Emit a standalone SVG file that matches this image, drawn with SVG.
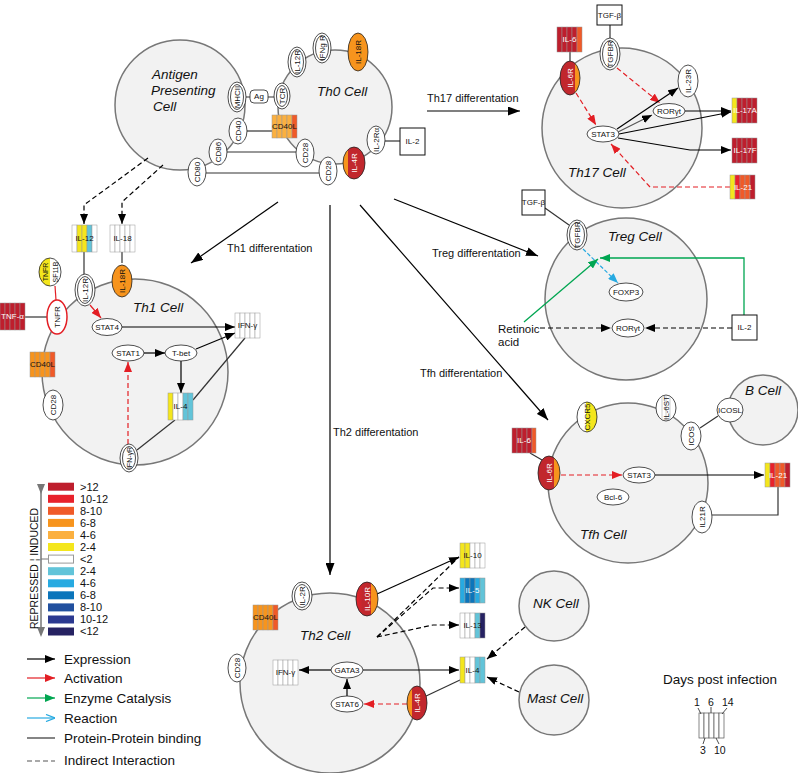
<svg xmlns="http://www.w3.org/2000/svg" width="798" height="773" viewBox="0 0 798 773">
<style>
text{font-family:"Liberation Sans",Arial,sans-serif;fill:#111}
.cell{fill:#f2f2f2;stroke:#777;stroke-width:1.5}
.cl{font-size:13.5px;font-style:italic}
.dl{font-size:11px}
.n{font-size:8px;text-anchor:middle;dominant-baseline:central;font-family:"Liberation Sans Narrow","Liberation Sans",sans-serif}
.w{fill:#fff}
.e{fill:#fff;stroke:#222;stroke-width:0.8}
.ei{fill:none;stroke:#222;stroke-width:0.8}
.s{stroke:#999;stroke-width:0.5}
.wb{fill:#fff;stroke:#111;stroke-width:1}
.k{fill:none;stroke:#000;stroke-width:1.2}
.kd{fill:none;stroke:#000;stroke-width:1.2;stroke-dasharray:5,3}
.rd{fill:none;stroke:#e31e24;stroke-width:1.2;stroke-dasharray:5,3}
.gr{fill:none;stroke:#00a651;stroke-width:1.3}
.bd{fill:none;stroke:#27aae1;stroke-width:1.2;stroke-dasharray:4,2}
.pp{fill:none;stroke:#333;stroke-width:1.2}
.lg{font-size:11px}
.lt{font-size:13.5px}
</style>
<defs>
<marker id="ak" viewBox="0 0 10 8" refX="10" refY="4" markerWidth="10" markerHeight="8" markerUnits="userSpaceOnUse" orient="auto"><path d="M0,0L10,4L0,8z" fill="#000"/></marker>
<marker id="akb" viewBox="0 0 12 9" refX="12" refY="4.5" markerWidth="12" markerHeight="9" markerUnits="userSpaceOnUse" orient="auto"><path d="M0,0L12,4.5L0,9z" fill="#000"/></marker>
<marker id="ar" viewBox="0 0 10 8" refX="10" refY="4" markerWidth="10" markerHeight="8" markerUnits="userSpaceOnUse" orient="auto"><path d="M0,0L10,4L0,8z" fill="#e31e24"/></marker>
<marker id="ag" viewBox="0 0 10 8" refX="10" refY="4" markerWidth="10" markerHeight="8" markerUnits="userSpaceOnUse" orient="auto"><path d="M0,0L10,4L0,8z" fill="#00a651"/></marker>
<marker id="ab" viewBox="0 0 10 8" refX="10" refY="4" markerWidth="10" markerHeight="8" markerUnits="userSpaceOnUse" orient="auto"><path d="M0,0L10,4L0,8z" fill="#27aae1"/></marker>
<marker id="abo" viewBox="0 0 10 8" refX="10" refY="4" markerWidth="10" markerHeight="8" markerUnits="userSpaceOnUse" orient="auto"><path d="M1,0.5L10,4L1,7.5" fill="none" stroke="#27aae1" stroke-width="1.3"/></marker>
<marker id="agr" viewBox="0 0 10 8" refX="5" refY="4" markerWidth="10" markerHeight="8" markerUnits="userSpaceOnUse" orient="auto"><path d="M0,0L10,4L0,8z" fill="#777"/></marker>
<linearGradient id="gIL6R"><stop offset="0" stop-color="#c1272d"/><stop offset="0.75" stop-color="#c1272d"/><stop offset="0.75" stop-color="#f7941d"/><stop offset="1" stop-color="#f7941d"/></linearGradient>
<linearGradient id="gIL4R"><stop offset="0" stop-color="#f7941d"/><stop offset="0.25" stop-color="#f7941d"/><stop offset="0.25" stop-color="#c1272d"/><stop offset="1" stop-color="#c1272d"/></linearGradient>
<linearGradient id="gIL10R"><stop offset="0" stop-color="#e8212b"/><stop offset="0.3" stop-color="#c1272d"/><stop offset="0.7" stop-color="#c1272d"/><stop offset="0.7" stop-color="#f7941d"/><stop offset="1" stop-color="#f7941d"/></linearGradient>
<linearGradient id="gCX"><stop offset="0" stop-color="#fff"/><stop offset="0.45" stop-color="#fff"/><stop offset="0.45" stop-color="#f4e61d"/><stop offset="1" stop-color="#f4e61d"/></linearGradient>
<linearGradient id="gTN"><stop offset="0" stop-color="#f4e61d"/><stop offset="0.5" stop-color="#f4e61d"/><stop offset="0.5" stop-color="#fff"/><stop offset="1" stop-color="#fff"/></linearGradient>
</defs>

<!-- cells -->
<g id="apc"><circle class="cell" cx="180" cy="105" r="65"/><text class="cl" x="152" y="79">Antigen</text><text class="cl" x="151" y="95">Presenting</text><text class="cl" x="153" y="111">Cell</text></g>
<g id="th0"><circle class="cell" cx="335" cy="107" r="57"/><text class="cl" x="317" y="96">Th0 Cell</text></g>
<g id="th17"><circle class="cell" cx="622" cy="128" r="80"/><text class="cl" x="568" y="177">Th17 Cell</text></g>
<g id="th1"><circle class="cell" cx="135" cy="372" r="93"/><text class="cl" x="133" y="312">Th1 Cell</text></g>
<g id="treg"><circle class="cell" cx="626" cy="299" r="81"/><text class="cl" x="608" y="241">Treg Cell</text></g>
<g id="tfh"><circle class="cell" cx="628" cy="483" r="80"/><text class="cl" x="580" y="539">Tfh Cell</text></g>
<g id="bcell"><circle class="cell" cx="763" cy="410" r="35"/><text class="cl" x="745" y="395">B Cell</text></g>
<g id="th2"><circle class="cell" cx="330" cy="683" r="90"/><text class="cl" x="300" y="640">Th2 Cell</text></g>
<g id="nk"><circle class="cell" cx="554" cy="606" r="35"/><text class="cl" x="533" y="608">NK Cell</text></g>
<g id="mast"><circle class="cell" cx="554" cy="700" r="35"/><text class="cl" x="527" y="703">Mast Cell</text></g>

<!-- connectors -->
<g id="connectors">
<path class="k" d="M427,111L520,111" marker-end="url(#akb)"/>
<path class="k" d="M278,202L191,263" marker-end="url(#akb)"/>
<path class="k" d="M330,205L330,575" marker-end="url(#akb)"/>
<path class="k" d="M394,199L538,256" marker-end="url(#akb)"/>
<path class="k" d="M360,205L548,420" marker-end="url(#akb)"/>
<path class="pp" d="M246,97L250,97M268,97L274,97"/>
<path class="pp" d="M247,131L272,131"/>
<path class="pp" d="M227,152L296,152"/>
<path class="pp" d="M206,173L319,173"/>
<path class="pp" d="M385,141L400,141"/>
<path class="kd" d="M148,158L84,205L84,224" marker-end="url(#ak)"/>
<path class="kd" d="M163,165L122,202L122,224" marker-end="url(#ak)"/>
<path class="pp" d="M570,52L570,61"/>
<path class="pp" d="M610,25L610,38"/>
<path class="rd" d="M576,93L596,125" marker-end="url(#ar)"/>
<path class="rd" d="M617,68L660,103" marker-end="url(#ar)"/>
<path class="k" d="M617,129L678,88" marker-end="url(#ak)"/>
<path class="k" d="M618,132L652,115" marker-end="url(#ak)" style="stroke:#555"/>
<path class="k" d="M619,134L731,112" marker-end="url(#ak)"/>
<path class="k" d="M685,111L731,111" marker-end="url(#ak)"/>
<path class="k" d="M618,138L690,150L731,150" marker-end="url(#ak)"/>
<path class="rd" d="M730,187L650,187L611,144" marker-end="url(#ar)"/>
<path class="pp" d="M84,252L84,274"/>
<path class="pp" d="M122,252L122,263"/>
<path class="k" d="M90,305L101,318" style="stroke:#e31e24" marker-end="url(#ar)"/>
<path class="pp" d="M25,317L47,317"/>
<path style="fill:none;stroke:#e31e24;stroke-width:1.2" d="M55,286L56,300"/>
<path class="k" d="M122,327L235,327" marker-end="url(#ak)"/>
<path class="k" d="M144,353L165,353" marker-end="url(#ak)"/>
<path class="k" d="M196,349L235,333" marker-end="url(#ak)"/>
<path class="k" d="M181,361L181,393" marker-end="url(#ak)"/>
<path class="pp" d="M175,420L137,450"/>
<path class="pp" d="M245,338L193,400"/>
<path class="rd" d="M128,444L128,362" marker-end="url(#ar)"/>
<path class="pp" d="M545,208L569,225"/>
<path class="bd" d="M583,249L618,283" marker-end="url(#ab)"/>
<path class="gr" d="M524,322L598,259" marker-end="url(#ag)"/>
<path class="gr" d="M744,315L744,258L600,258" marker-end="url(#ag)"/>
<path class="kd" d="M540,328L611,328" marker-end="url(#ak)"/>
<path class="kd" d="M732,328L645,328" marker-end="url(#ak)"/>
<path class="pp" d="M530,453L542,460"/>
<path class="rd" d="M561,475L622,475" marker-end="url(#ar)"/>
<path class="k" d="M655,475L764,475" marker-end="url(#ak)"/>
<path class="pp" d="M778,487L778,515L712,515"/>
<path class="pp" d="M700,428L718,416"/>
<path class="k" d="M377,594L459,557" marker-end="url(#ak)"/>
<path class="kd" d="M377,637L459,557"/>
<path class="kd" d="M377,637L433,588L459,588" marker-end="url(#ak)"/>
<path class="kd" d="M377,637L433,625L459,625" marker-end="url(#ak)"/>
<path class="k" d="M331,670L299,670" marker-end="url(#ak)"/>
<path class="k" d="M363,670L459,670" marker-end="url(#ak)"/>
<path class="k" d="M347,696L347,679" marker-end="url(#ak)"/>
<path class="rd" d="M407,704L364,704" marker-end="url(#ar)"/>
<path class="pp" d="M460,680L424,697"/>
<path class="kd" d="M525,627L487,659" marker-end="url(#ak)"/>
<path class="kd" d="M519,692L487,677" marker-end="url(#ak)"/>
</g>

<g id="labels">
<text class="dl" x="427" y="102">Th17 differentation</text>
<text class="dl" x="227" y="252">Th1 differentation</text>
<text class="dl" x="333" y="436">Th2 differentation</text>
<text class="dl" x="432" y="257">Treg differentation</text>
<text class="dl" x="420" y="377">Tfh differentation</text>
<text x="498" y="333" style="font-size:11.5px">Retinoic</text>
<text x="498" y="346" style="font-size:11.5px">acid</text>
</g>

<!-- Th0 / APC nodes -->
<g id="il12r_th0"><ellipse class="e" cx="297" cy="62" rx="9" ry="15"/><ellipse class="ei" cx="297" cy="62" rx="6.5" ry="12.5"/><text class="n" x="297" y="62" transform="rotate(-90 297 62)">IL-12R</text></g>
<g id="ifngr_th0"><ellipse class="e" cx="322" cy="48" rx="9" ry="15"/><ellipse class="ei" cx="322" cy="48" rx="6.5" ry="12.5"/><text class="n" x="322" y="48" transform="rotate(-90 322 48)">IFNg R</text></g>
<g id="il18r_th0"><ellipse class="e" cx="358" cy="52" rx="10" ry="19" style="fill:#f7941d"/><text class="n" x="358" y="52" transform="rotate(-90 358 52)">IL-18R</text></g>
<g id="tcr"><ellipse class="e" cx="282" cy="96" rx="8" ry="13"/><ellipse class="ei" cx="282" cy="96" rx="5.5" ry="10.5"/><text class="n" x="282" y="96" transform="rotate(-90 282 96)">TCR</text></g>
<g id="ag"><rect x="250" y="90" width="18" height="13" rx="4" class="e"/><text class="n" x="259" y="96.5">Ag</text></g>
<g id="mhcii"><ellipse class="e" cx="237" cy="97" rx="9" ry="15"/><ellipse class="ei" cx="237" cy="97" rx="6.5" ry="12.5"/><text class="n" x="237" y="97" transform="rotate(-90 237 97)">MHCII</text></g>
<g id="cd40"><ellipse class="e" cx="238" cy="131" rx="9" ry="13"/><text class="n" x="238" y="131" transform="rotate(-90 238 131)">CD40</text></g>
<g id="cd40l_th0"><rect class="s" x="272" y="115" width="5" height="23" fill="#fbb040"/><rect class="s" x="277" y="115" width="5" height="23" fill="#fbb040"/><rect class="s" x="282" y="115" width="5" height="23" fill="#fbb040"/><rect class="s" x="287" y="115" width="5" height="23" fill="#fbb040"/><rect class="s" x="292" y="115" width="5" height="23" fill="#f05a28"/><text class="n" x="284.5" y="126.5">CD40L</text></g>
<g id="cd86"><ellipse class="e" cx="218" cy="152" rx="9" ry="13"/><text class="n" x="218" y="152" transform="rotate(-90 218 152)">CD86</text></g>
<g id="cd80"><ellipse class="e" cx="197" cy="172" rx="9" ry="14"/><text class="n" x="197" y="172" transform="rotate(-90 197 172)">CD80</text></g>
<g id="cd28a_th0"><ellipse class="e" cx="305" cy="153" rx="9" ry="14"/><text class="n" x="305" y="153" transform="rotate(-90 305 153)">CD28</text></g>
<g id="cd28b_th0"><ellipse class="e" cx="328" cy="171" rx="9" ry="14"/><text class="n" x="328" y="171" transform="rotate(-90 328 171)">CD28</text></g>
<g id="il4r_th0"><ellipse class="e" cx="354" cy="163" rx="11" ry="16" style="fill:url(#gIL4R)"/><text class="n w" x="354" y="163" transform="rotate(-90 354 163)">IL-4R</text></g>
<g id="il2ra"><ellipse class="e" cx="376" cy="140" rx="9" ry="14"/><text class="n" x="376" y="140" transform="rotate(-90 376 140)">IL-2Rα</text></g>
<g id="il2_th0"><rect class="wb" x="400" y="128" width="25" height="27"/><text class="n" x="412.5" y="141.5">IL-2</text></g>

<!-- Th17 nodes -->
<g id="il6_th17"><rect class="s" x="557" y="27" width="5" height="25" fill="#be1e2d"/><rect class="s" x="562" y="27" width="5" height="25" fill="#be1e2d"/><rect class="s" x="567" y="27" width="5" height="25" fill="#be1e2d"/><rect class="s" x="572" y="27" width="5" height="25" fill="#be1e2d"/><rect class="s" x="577" y="27" width="5" height="25" fill="#f05a28"/><text class="n w" x="569.5" y="39.5">IL-6</text></g>
<g id="il6r_th17"><ellipse class="e" cx="570" cy="78" rx="10" ry="17" style="fill:url(#gIL6R)"/><text class="n w" x="570" y="78" transform="rotate(-90 570 78)">IL-6R</text></g>
<g id="tgfb_th17"><rect class="wb" x="597" y="5" width="25" height="20"/><text class="n" x="609.5" y="15">TGF-β</text></g>
<g id="tgfbr_th17"><ellipse class="e" cx="610" cy="54" rx="10" ry="16"/><ellipse class="ei" cx="610" cy="54" rx="7.5" ry="13.5"/><text class="n" x="610" y="54" transform="rotate(-90 610 54)">TGFBR</text></g>
<g id="stat3_th17"><ellipse class="e" cx="603" cy="134" rx="16" ry="8"/><text class="n" x="603" y="134">STAT3</text></g>
<g id="roryt_th17"><ellipse class="e" cx="669" cy="111" rx="16" ry="7.5"/><text class="n" x="669" y="111">RORγt</text></g>
<g id="il23r"><ellipse class="e" cx="688" cy="81" rx="10" ry="16"/><text class="n" x="688" y="81" transform="rotate(-90 688 81)">IL-23R</text></g>
<g id="il17a"><rect class="s" x="732" y="98" width="5" height="25" fill="#f4e61d"/><rect class="s" x="737" y="98" width="5" height="25" fill="#be1e2d"/><rect class="s" x="742" y="98" width="5" height="25" fill="#be1e2d"/><rect class="s" x="747" y="98" width="5" height="25" fill="#be1e2d"/><rect class="s" x="752" y="98" width="5" height="25" fill="#be1e2d"/><text class="n w" x="745" y="110.5">IL-17A</text></g>
<g id="il17f"><rect class="s" x="732" y="138" width="5" height="25" fill="#be1e2d"/><rect class="s" x="737" y="138" width="5" height="25" fill="#be1e2d"/><rect class="s" x="742" y="138" width="5" height="25" fill="#be1e2d"/><rect class="s" x="747" y="138" width="5" height="25" fill="#be1e2d"/><rect class="s" x="752" y="138" width="5" height="25" fill="#be1e2d"/><text class="n w" x="745" y="150.5">IL-17F</text></g>
<g id="il21_th17"><rect class="s" x="730" y="175" width="5" height="24" fill="#f4e61d"/><rect class="s" x="735" y="175" width="5" height="24" fill="#e8212b"/><rect class="s" x="740" y="175" width="5" height="24" fill="#f05a28"/><rect class="s" x="745" y="175" width="5" height="24" fill="#f05a28"/><rect class="s" x="750" y="175" width="5" height="24" fill="#be1e2d"/><text class="n w" x="743" y="187">IL-21</text></g>

<!-- Th1 nodes -->
<g id="il12"><rect class="s" x="72" y="225" width="5" height="27" fill="#fff"/><rect class="s" x="77" y="225" width="5" height="27" fill="#f4e61d"/><rect class="s" x="82" y="225" width="5" height="27" fill="#f4e61d"/><rect class="s" x="87" y="225" width="5" height="27" fill="#62c4d9"/><rect class="s" x="92" y="225" width="5" height="27" fill="#fff"/><text class="n" x="84.5" y="238.5">IL-12</text></g>
<g id="il18"><rect class="s" x="110" y="225" width="5" height="27" fill="#fff"/><rect class="s" x="115" y="225" width="5" height="27" fill="#fff"/><rect class="s" x="120" y="225" width="5" height="27" fill="#fff"/><rect class="s" x="125" y="225" width="5" height="27" fill="#fff"/><rect class="s" x="130" y="225" width="5" height="27" fill="#fff"/><text class="n" x="122.5" y="238.5">IL-18</text></g>
<g id="il12r_th1"><ellipse class="e" cx="85" cy="290" rx="10" ry="16"/><ellipse class="ei" cx="85" cy="290" rx="7.5" ry="13.5"/><text class="n" x="85" y="290" transform="rotate(-90 85 290)">IL-12R</text></g>
<g id="il18r_th1"><ellipse class="e" cx="122" cy="281" rx="10" ry="16" style="fill:#f7941d"/><text class="n" x="122" y="281" transform="rotate(-90 122 281)">IL-18R</text></g>
<g id="tnfr_sf11b"><ellipse class="e" cx="50" cy="272" rx="11" ry="14" style="fill:url(#gTN)"/><text class="n" x="45" y="272" style="font-size:7px" transform="rotate(-90 45 272)">TNFR</text><text class="n" x="55" y="272" style="font-size:7px" transform="rotate(-90 55 272)">SF11B</text></g>
<g id="tnfr"><ellipse cx="57" cy="317" rx="10" ry="17" fill="#fff" stroke="#e31e24" stroke-width="1.5"/><text class="n" x="57" y="317" transform="rotate(-90 57 317)">TNFR</text></g>
<g id="tnfa"><rect class="s" x="0" y="303" width="5" height="27" fill="#be1e2d"/><rect class="s" x="5" y="303" width="5" height="27" fill="#be1e2d"/><rect class="s" x="10" y="303" width="5" height="27" fill="#be1e2d"/><rect class="s" x="15" y="303" width="5" height="27" fill="#be1e2d"/><rect class="s" x="20" y="303" width="5" height="27" fill="#be1e2d"/><text class="n w" x="12.5" y="316.5">TNF-α</text></g>
<g id="cd40l_th1"><rect class="s" x="30" y="352" width="5" height="25" fill="#f7941d"/><rect class="s" x="35" y="352" width="5" height="25" fill="#f7941d"/><rect class="s" x="40" y="352" width="5" height="25" fill="#f7941d"/><rect class="s" x="45" y="352" width="5" height="25" fill="#f7941d"/><rect class="s" x="50" y="352" width="5" height="25" fill="#f05a28"/><text class="n" x="42.5" y="364.5">CD40L</text></g>
<g id="cd28_th1"><ellipse class="e" cx="53" cy="405" rx="10" ry="15"/><text class="n" x="53" y="405" transform="rotate(-90 53 405)">CD28</text></g>
<g id="stat4"><ellipse class="e" cx="107" cy="327" rx="15" ry="8.5"/><text class="n" x="107" y="327">STAT4</text></g>
<g id="ifng_th1"><rect class="s" x="235" y="313" width="5" height="25" fill="#fff"/><rect class="s" x="240" y="313" width="5" height="25" fill="#fff"/><rect class="s" x="245" y="313" width="5" height="25" fill="#fff"/><rect class="s" x="250" y="313" width="5" height="25" fill="#fff"/><rect class="s" x="255" y="313" width="5" height="25" fill="#fff"/><text class="n" x="247.5" y="325.5">IFN-γ</text></g>
<g id="stat1"><ellipse class="e" cx="128" cy="353" rx="16" ry="8"/><text class="n" x="128" y="353">STAT1</text></g>
<g id="tbet"><ellipse class="e" cx="181" cy="353" rx="16" ry="8"/><text class="n" x="181" y="353">T-bet</text></g>
<g id="il4_th1"><rect class="s" x="168" y="393" width="5" height="27" fill="#f4e61d"/><rect class="s" x="173" y="393" width="5" height="27" fill="#fff"/><rect class="s" x="178" y="393" width="5" height="27" fill="#fff"/><rect class="s" x="183" y="393" width="5" height="27" fill="#62c4d9"/><rect class="s" x="188" y="393" width="5" height="27" fill="#62c4d9"/><text class="n" x="180.5" y="406.5">IL-4</text></g>
<g id="ifngr_th1"><ellipse class="e" cx="129" cy="458" rx="9" ry="14"/><ellipse class="ei" cx="129" cy="458" rx="6.5" ry="11.5"/><text class="n" x="129" y="458" style="font-size:7px" transform="rotate(-90 129 458)">IFN-γR</text></g>

<!-- Treg nodes -->
<g id="tgfb_treg"><rect class="wb" x="522" y="190" width="23" height="25"/><text class="n" x="533.5" y="202.5">TGF-β</text></g>
<g id="tgfbr_treg"><ellipse class="e" cx="577" cy="235" rx="10" ry="15"/><ellipse class="ei" cx="577" cy="235" rx="7.5" ry="12.5"/><text class="n" x="577" y="235" transform="rotate(-90 577 235)">TGFBR</text></g>
<g id="foxp3"><ellipse class="e" cx="626" cy="292" rx="17" ry="9"/><text class="n" x="626" y="292">FOXP3</text></g>
<g id="roryt_treg"><ellipse class="e" cx="628" cy="328" rx="16" ry="9"/><text class="n" x="628" y="328">RORγt</text></g>
<g id="il2_treg"><rect class="wb" x="732" y="315" width="25" height="25"/><text class="n" x="744.5" y="327.5">IL-2</text></g>

<!-- Tfh nodes -->
<g id="il6_tfh"><rect class="s" x="512" y="428" width="5" height="25" fill="#be1e2d"/><rect class="s" x="517" y="428" width="5" height="25" fill="#be1e2d"/><rect class="s" x="522" y="428" width="5" height="25" fill="#be1e2d"/><rect class="s" x="527" y="428" width="5" height="25" fill="#be1e2d"/><rect class="s" x="532" y="428" width="4" height="25" fill="#f05a28"/><text class="n w" x="524" y="440.5">IL-6</text></g>
<g id="il6r_tfh"><ellipse class="e" cx="549" cy="473" rx="11" ry="17" style="fill:url(#gIL6R)"/><text class="n w" x="549" y="473" transform="rotate(-90 549 473)">IL-6R</text></g>
<g id="stat3_tfh"><ellipse class="e" cx="639" cy="475" rx="16" ry="8"/><text class="n" x="639" y="475">STAT3</text></g>
<g id="bcl6"><ellipse class="e" cx="613" cy="497" rx="16" ry="8"/><text class="n" x="613" y="497">Bcl-6</text></g>
<g id="il21_tfh"><rect class="s" x="765" y="463" width="5" height="24" fill="#f4e61d"/><rect class="s" x="770" y="463" width="5" height="24" fill="#e8212b"/><rect class="s" x="775" y="463" width="5" height="24" fill="#f05a28"/><rect class="s" x="780" y="463" width="5" height="24" fill="#f05a28"/><rect class="s" x="785" y="463" width="5" height="24" fill="#be1e2d"/><text class="n w" x="778" y="475">IL-21</text></g>
<g id="il21r"><ellipse class="e" cx="702" cy="517" rx="10" ry="16"/><text class="n" x="702" y="517" transform="rotate(-90 702 517)">IL21R</text></g>
<g id="cxcr5"><ellipse class="e" cx="587" cy="417" rx="10" ry="15" style="fill:url(#gCX)"/><text class="n" x="587" y="417" transform="rotate(-90 587 417)">CXCR5</text></g>
<g id="il6st"><ellipse class="e" cx="666" cy="408" rx="10" ry="13"/><path d="M662,396v24M666,395v26M670,396v24" stroke="#999" stroke-width="0.5"/><text class="n" x="666" y="408" transform="rotate(-90 666 408)">IL-6ST</text></g>
<g id="icos"><ellipse class="e" cx="691" cy="436" rx="10" ry="14"/><text class="n" x="691" y="436" transform="rotate(-90 691 436)">ICOS</text></g>
<g id="icosl"><ellipse class="e" cx="730" cy="410" rx="13" ry="12"/><text class="n" x="730" y="410">ICOSL</text></g>

<!-- Th2 nodes -->
<g id="cd40l_th2"><rect class="s" x="253" y="605" width="5" height="25" fill="#f7941d"/><rect class="s" x="258" y="605" width="5" height="25" fill="#f7941d"/><rect class="s" x="263" y="605" width="5" height="25" fill="#f7941d"/><rect class="s" x="268" y="605" width="5" height="25" fill="#f7941d"/><rect class="s" x="273" y="605" width="5" height="25" fill="#f05a28"/><text class="n" x="265.5" y="617.5">CD40L</text></g>
<g id="il2r_th2"><ellipse class="e" cx="302" cy="596" rx="10" ry="14"/><ellipse class="ei" cx="302" cy="596" rx="7.5" ry="11.5"/><text class="n" x="302" y="596" transform="rotate(-90 302 596)">IL-2R</text></g>
<g id="il10r"><ellipse class="e" cx="367" cy="599" rx="11" ry="17" style="fill:url(#gIL10R)"/><text class="n w" x="367" y="599" transform="rotate(-90 367 599)">IL-10R</text></g>
<g id="cd28_th2"><ellipse class="e" cx="237" cy="668" rx="9" ry="14"/><text class="n" x="237" y="668" transform="rotate(-90 237 668)">CD28</text></g>
<g id="ifng_th2"><rect class="s" x="273" y="660" width="5" height="25" fill="#fff"/><rect class="s" x="278" y="660" width="5" height="25" fill="#fff"/><rect class="s" x="283" y="660" width="5" height="25" fill="#fff"/><rect class="s" x="288" y="660" width="5" height="25" fill="#fff"/><rect class="s" x="293" y="660" width="5" height="25" fill="#fff"/><text class="n" x="285.5" y="672.5">IFN-γ</text></g>
<g id="gata3"><ellipse class="e" cx="347" cy="670" rx="16" ry="8"/><text class="n" x="347" y="670">GATA3</text></g>
<g id="stat6"><ellipse class="e" cx="347" cy="704" rx="16" ry="8"/><text class="n" x="347" y="704">STAT6</text></g>
<g id="il4r_th2"><ellipse class="e" cx="417" cy="703" rx="10" ry="17" style="fill:url(#gIL4R)"/><text class="n w" x="417" y="703" transform="rotate(-90 417 703)">IL-4R</text></g>
<g id="il10"><rect class="s" x="460" y="543" width="5" height="25" fill="#f4e61d"/><rect class="s" x="465" y="543" width="5" height="25" fill="#f4e61d"/><rect class="s" x="470" y="543" width="5" height="25" fill="#fff"/><rect class="s" x="475" y="543" width="5" height="25" fill="#fff"/><rect class="s" x="480" y="543" width="5" height="25" fill="#fff"/><text class="n" x="472.5" y="555.5">IL-10</text></g>
<g id="il5"><rect class="s" x="460" y="578" width="5" height="25" fill="#27aae1"/><rect class="s" x="465" y="578" width="5" height="25" fill="#0b75bb"/><rect class="s" x="470" y="578" width="5" height="25" fill="#0b75bb"/><rect class="s" x="475" y="578" width="5" height="25" fill="#27aae1"/><rect class="s" x="480" y="578" width="5" height="25" fill="#62c4d9"/><text class="n w" x="472.5" y="590.5">IL-5</text></g>
<g id="il13"><rect class="s" x="460" y="613" width="5" height="25" fill="#fff"/><rect class="s" x="465" y="613" width="5" height="25" fill="#fff"/><rect class="s" x="470" y="613" width="5" height="25" fill="#fff"/><rect class="s" x="475" y="613" width="5" height="25" fill="#62c4d9"/><rect class="s" x="480" y="613" width="5" height="25" fill="#262262"/><text class="n" x="472.5" y="625.5">IL-13</text></g>
<g id="il4_th2"><rect class="s" x="460" y="657" width="5" height="26" fill="#f4e61d"/><rect class="s" x="465" y="657" width="5" height="26" fill="#fff"/><rect class="s" x="470" y="657" width="5" height="26" fill="#fff"/><rect class="s" x="475" y="657" width="5" height="26" fill="#62c4d9"/><rect class="s" x="480" y="657" width="5" height="26" fill="#62c4d9"/><text class="n" x="472.5" y="670">IL-4</text></g>

<!-- colour legend -->
<g id="legend-colors">
<path d="M41,489L41,632" stroke="#777" stroke-width="1.5" marker-start="url(#agr)" marker-end="url(#agr)"/>
<path d="M41,559L48,559" stroke="#777" stroke-width="1"/>
<text class="lg" x="38" y="629" transform="rotate(-90 38 629)" style="font-size:10.5px">REPRESSED ¦ INDUCED</text>
<rect x="48" y="482.7" width="26" height="8" fill="#be1e2d"/><text class="lg" x="80" y="491">&gt;12</text>
<rect x="48" y="494.8" width="26" height="8" fill="#e8212b"/><text class="lg" x="80" y="503">10-12</text>
<rect x="48" y="506.8" width="26" height="8" fill="#f05a28"/><text class="lg" x="80" y="515">8-10</text>
<rect x="48" y="518.9" width="26" height="8" fill="#f7941d"/><text class="lg" x="80" y="527">6-8</text>
<rect x="48" y="531" width="26" height="8" fill="#fbb040"/><text class="lg" x="80" y="539">4-6</text>
<rect x="48" y="543" width="26" height="8" fill="#f4e61d"/><text class="lg" x="80" y="551">2-4</text>
<rect x="48.5" y="555.1" width="25" height="8" fill="#fff" stroke="#999" stroke-width="1"/><text class="lg" x="80" y="563">&lt;2</text>
<rect x="48" y="567.2" width="26" height="8" fill="#62c4d9"/><text class="lg" x="80" y="575">2-4</text>
<rect x="48" y="579.3" width="26" height="8" fill="#27aae1"/><text class="lg" x="80" y="587">4-6</text>
<rect x="48" y="591.3" width="26" height="8" fill="#0b75bb"/><text class="lg" x="80" y="599">6-8</text>
<rect x="48" y="603.4" width="26" height="8" fill="#21509f"/><text class="lg" x="80" y="611">8-10</text>
<rect x="48" y="615.5" width="26" height="8" fill="#2b3990"/><text class="lg" x="80" y="623">10-12</text>
<rect x="48" y="627.5" width="26" height="8" fill="#262262"/><text class="lg" x="80" y="635">&lt;12</text>
</g>

<!-- line legend -->
<g id="legend-lines">
<path d="M27,659L55,659" stroke="#000" stroke-width="1.2" marker-end="url(#ak)"/><text class="lt" x="64" y="664">Expression</text>
<path d="M27,678L55,678" stroke="#e31e24" stroke-width="1.2" marker-end="url(#ar)"/><text class="lt" x="64" y="683">Activation</text>
<path d="M27,698L55,698" stroke="#00a651" stroke-width="1.2" marker-end="url(#ag)"/><text class="lt" x="64" y="703">Enzyme Catalysis</text>
<path d="M27,718L55,718" stroke="#27aae1" stroke-width="1.2" marker-end="url(#abo)"/><text class="lt" x="64" y="723">Reaction</text>
<path d="M27,738L55,738" stroke="#333" stroke-width="1.2"/><text class="lt" x="64" y="743">Protein-Protein binding</text>
<path d="M27,761L55,761" stroke="#555" stroke-width="1.2" stroke-dasharray="5,3"/><text class="lt" x="64" y="765">Indirect Interaction</text>
</g>

<!-- days legend -->
<g id="legend-days">
<text class="lt" x="663" y="684">Days post infection</text>
<rect x="699" y="713" width="5" height="25" fill="#fff" stroke="#555" stroke-width="0.7"/>
<rect x="704" y="713" width="5" height="25" fill="#fff" stroke="#555" stroke-width="0.7"/>
<rect x="709" y="713" width="5" height="25" fill="#fff" stroke="#555" stroke-width="0.7"/>
<rect x="714" y="713" width="5" height="25" fill="#fff" stroke="#555" stroke-width="0.7"/>
<rect x="719" y="713" width="5" height="25" fill="#fff" stroke="#555" stroke-width="0.7"/>
<text x="694" y="706" style="font-size:10.5px">1</text>
<text x="708" y="706" style="font-size:10.5px">6</text>
<text x="722" y="706" style="font-size:10.5px">14</text>
<text x="700" y="754" style="font-size:10.5px">3</text>
<text x="714" y="754" style="font-size:10.5px">10</text>
<path d="M698,708L701,714M711,707L711,713M727,708L722,714M703,744L705,738M719,744L716,738" stroke="#222" stroke-width="0.8" fill="none"/>
</g>
</svg>
